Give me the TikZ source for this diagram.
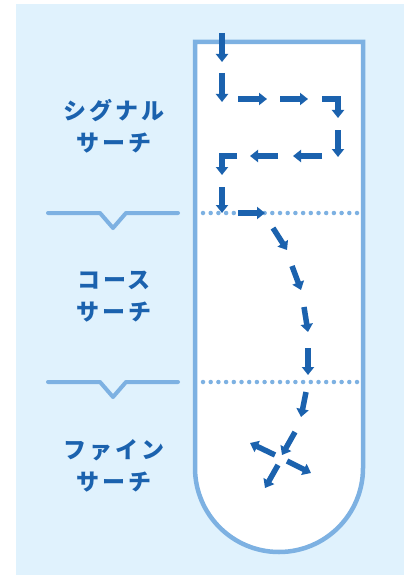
\documentclass[tikz,border=0pt]{standalone}
\usepackage{fontspec}
\newfontfamily\jpfont{Noto Sans CJK JP Black}[LetterSpace=12]
\usetikzlibrary{arrows.meta}
\definecolor{bgblue}{HTML}{E0F2FD}
\definecolor{lineblue}{HTML}{7DB1E2}
\definecolor{darkblue}{HTML}{1B62AE}

\begin{document}
\begin{tikzpicture}[x=1pt,y=-1pt,
  phase/.style={font=\jpfont\fontsize{23}{32}\selectfont, text=darkblue, align=center},
  mv/.style={draw=darkblue, line width=5.5pt, -{Triangle[length=8pt,width=12pt]}},
  divider/.style={draw=lineblue, line width=4.5pt, line cap=round, dash pattern=on 0pt off 7.7pt},
  bracket/.style={draw=lineblue, line width=4pt, line cap=round, line join=round}]
  \useasboundingbox (0,0) rectangle (404,575);
  \fill[bgblue] (16,4) rectangle (404,575);
  % tube
  \draw[draw=lineblue, line width=4.5pt, fill=white] (195,42) -- (363,42) -- (363,468) arc (0:180:84) -- cycle;
  \draw[divider] (203,213) -- (357,213);
  \draw[divider] (203,382) -- (357,382);
  % search path
  \foreach \xa/\ya/\xb/\yb in {222/33/222/62, 222/73/222/102, 238/99/267/99, 280/99/308/99,
      338/130/338/157, 322/156/293/156, 278/156/250/156, 222/187/222/213, 238/213/265/213,
      273/228/287/250, 292/266/301/290, 304/307/308/332, 308/348/308/375, 306/392/301/417,
      295/432/282/455, 275/455/250/443, 287/461/311/473, 278/465/265/488}
    \draw[mv] (\xa,\ya) -- (\xb,\yb);
  \draw[mv] (322,99) -- (338,99) -- (338,118);
  \draw[mv] (237,156) -- (222,156) -- (222,175);
  % phases
  \draw[bracket] (48,213) -- (100,213) -- (113,228) -- (126,213) -- (178,213);
  \draw[bracket] (48,382) -- (100,382) -- (113,397) -- (126,382) -- (178,382);
  \node[phase] (signal) at (114,126) {シグナル\\サーチ};
  \node[phase] (coarse) at (114,297) {コース\\サーチ};
  \node[phase] (fine) at (114,466) {ファイン\\サーチ};
\end{tikzpicture}
\end{document}
